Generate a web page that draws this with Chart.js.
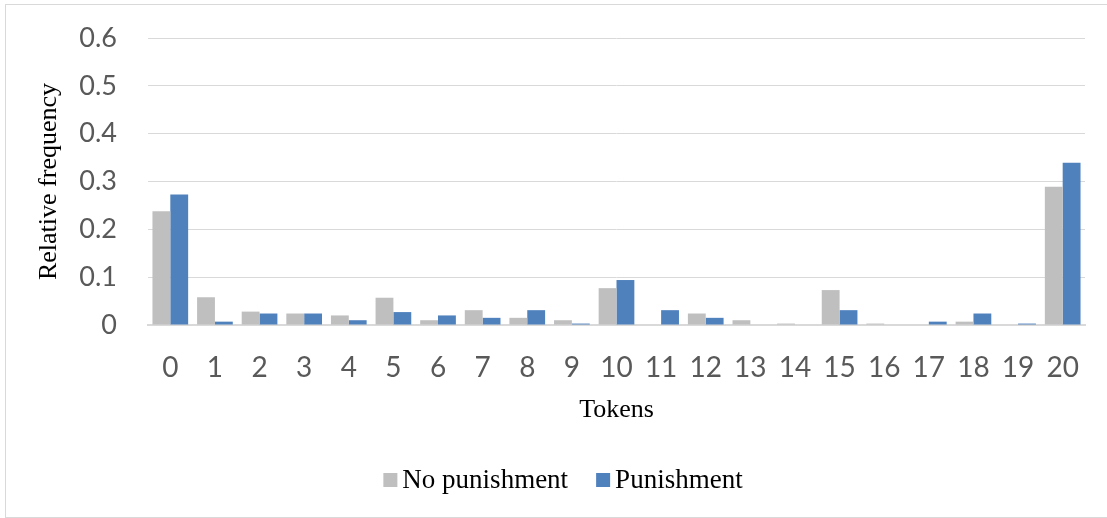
<!DOCTYPE html>
<html>
<head>
<meta charset="utf-8">
<script src="https://cdn.jsdelivr.net/npm/chart.js@4.4.1/dist/chart.umd.min.js"></script>
<style>
  html, body { margin: 0; padding: 0; background: #ffffff; }
  #wrap { position: relative; width: 1107px; height: 518px; overflow: hidden; }
  #frame { position: absolute; left: 5px; top: 4px; width: 1120px; height: 514px;
           border: 1px solid #d9d9d9; box-sizing: border-box; }
  canvas { position: absolute; left: 0; top: 0; }
</style>
</head>
<body>
<div id="wrap">
  <div id="frame"></div>
  <canvas id="c" width="1107" height="518"></canvas>
</div>
<script>
// Token counts on the x axis
const tokens = ['0','1','2','3','4','5','6','7','8','9','10','11','12','13','14','15','16','17','18','19','20'];

// Relative frequency of each token count, per treatment
const noPunishment = [0.238, 0.058, 0.028, 0.024, 0.020, 0.057, 0.010, 0.031, 0.015, 0.010,
                      0.077, 0, 0.024, 0.010, 0.003, 0.073, 0.003, 0, 0.007, 0, 0.289];
const punishment   = [0.273, 0.007, 0.024, 0.024, 0.010, 0.027, 0.020, 0.015, 0.031, 0.003,
                      0.094, 0.031, 0.015, 0, 0, 0.031, 0, 0.007, 0.024, 0.003, 0.339];

const yTicks = [0, 0.1, 0.2, 0.3, 0.4, 0.5, 0.6];

const serif = "'Liberation Serif', 'DejaVu Serif', serif";
const sans = "Lato, 'Open Sans', sans-serif";

// Compact legend below the axis title: small square swatch tight against its label
const bottomLegend = {
  id: 'bottomLegend',
  afterDraw(chart) {
    const ctx = chart.ctx;
    const box = 14, gapText = 5, gapItem = 28, y = 480, centerX = 563;
    ctx.save();
    ctx.font = '27px ' + serif;
    ctx.textBaseline = 'middle';
    const items = chart.data.datasets.map(d => ({
      text: d.label, color: d.backgroundColor, w: ctx.measureText(d.label).width
    }));
    const total = items.reduce((s, it) => s + box + gapText + it.w, 0) + gapItem * (items.length - 1);
    let x = centerX - total / 2;
    items.forEach(it => {
      ctx.fillStyle = it.color;
      ctx.fillRect(x, y - box / 2, box, box);
      x += box + gapText;
      ctx.fillStyle = '#000000';
      ctx.fillText(it.text, x, y + 1);
      x += it.w + gapItem;
    });
    ctx.restore();
  }
};

new Chart(document.getElementById('c'), {
  type: 'bar',
  data: {
    labels: tokens,
    datasets: [
      { label: 'No punishment', data: noPunishment, backgroundColor: '#bfbfbf',
        categoryPercentage: 0.8, barPercentage: 1.0 },
      { label: 'Punishment', data: punishment, backgroundColor: '#4f81bd',
        categoryPercentage: 0.8, barPercentage: 1.0 }
    ]
  },
  plugins: [bottomLegend],
  options: {
    responsive: false,
    animation: false,
    devicePixelRatio: 1,
    layout: { padding: { left: 10, right: 22, top: 38, bottom: 61 } },
    plugins: {
      tooltip: { enabled: false },
      legend: { display: false }
    },
    scales: {
      x: {
        grid: { display: false, drawTicks: false },
        border: { display: true, color: '#d9d9d9', width: 2 },
        ticks: { font: { family: sans, size: 28 }, color: '#595959', padding: 26, maxRotation: 0 },
        title: { display: true, text: 'Tokens', font: { family: serif, size: 26 }, color: '#000000',
                 padding: { top: 4, bottom: 31 } },
        afterFit: s => { s.height = 132; s.paddingLeft = 0; s.paddingRight = 0; }
      },
      y: {
        min: 0, max: 0.6,
        afterBuildTicks: s => { s.ticks = yTicks.map(v => ({ value: v })); },
        grid: { color: '#d9d9d9', lineWidth: 1, drawTicks: false },
        border: { display: false },
        ticks: { font: { family: sans, size: 27 }, color: '#595959', padding: 31,
                 callback: v => String(v) },
        title: { display: true, text: 'Relative frequency', font: { family: serif, size: 26 },
                 color: '#000000', padding: { top: 24, bottom: 0 } },
        afterFit: s => { s.width = 138; s.paddingTop = 0; s.paddingBottom = 0; }
      }
    }
  }
});
</script>
</body>
</html>
